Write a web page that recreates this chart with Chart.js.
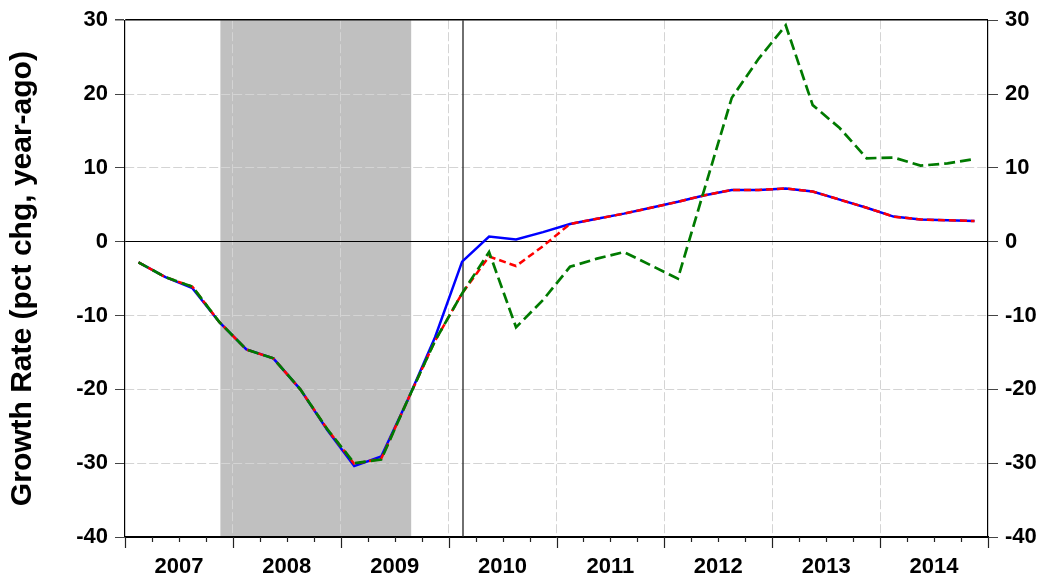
<!DOCTYPE html>
<html>
<head>
<meta charset="utf-8">
<script src="https://cdn.jsdelivr.net/npm/chart.js@4.4.1/dist/chart.umd.min.js"></script>
<style>
  html, body { margin: 0; padding: 0; background: #fff; }
  #wrap { width: 1046px; height: 584px; position: relative; }
</style>
</head>
<body>
<div id="wrap"><canvas id="c" width="1046" height="584"></canvas></div>
<script>
// ---- data ----
const years = [2007, 2008, 2009, 2010, 2011, 2012, 2013, 2014];
const quarterNames = ['Q1', 'Q2', 'Q3', 'Q4'];
const quarters = years.flatMap(y => quarterNames.map(q => y + q));

const actual = [-2.8, -4.8, -6.3, -10.9, -14.6, -15.8, -20.0, -25.5,
                -30.4, -29.1, -21.3, -12.9, -2.7, 0.7, 0.3, 1.3,
                2.4, 3.1, 3.8, 4.6, 5.4, 6.3, 7.0, 7.0,
                7.2, 6.8, 5.7, 4.6, 3.4, 3.0, 2.9, 2.8];
const forecastA = [-2.8, -4.8, -6.1, -10.9, -14.6, -15.8, -20.0, -25.4,
                   -30.1, -29.4, -21.3, -13.4, -7.0, -2.0, -3.3, -0.6,
                   2.4, 3.1, 3.8, 4.6, 5.4, 6.3, 7.0, 7.0,
                   7.2, 6.8, 5.7, 4.6, 3.4, 3.0, 2.9, 2.8];
const forecastB = [-2.8, -4.8, -6.1, -10.9, -14.6, -15.8, -20.0, -25.4,
                   -30.0, -29.5, -21.3, -13.4, -7.0, -1.4, -11.6, -7.9,
                   -3.4, -2.3, -1.4, -3.2, -5.0, 7.3, 19.5, 24.8,
                   29.3, 18.5, 15.4, 11.3, 11.4, 10.3, 10.6, 11.2];
const yTicks = [30, 20, 10, 0, -10, -20, -30, -40];
const recession = ['2007Q4', '2009Q3'];
const forecastStart = '2010Q1';
const yTitle = 'Growth Rate (pct chg, year-ago)';

// ---- plugin: recession shading, forecast marker, x tick marks ----
const decor = {
  id: 'decor',
  beforeDraw(chart) {
    const {ctx, chartArea: a, scales: {x}} = chart;
    const x0 = x.getPixelForValue(quarters.indexOf(recession[0])) + 1;
    const x1 = x.getPixelForValue(quarters.indexOf(recession[1])) + 3;
    ctx.save();
    ctx.fillStyle = '#c0c0c0';
    ctx.fillRect(x0, a.top, x1 - x0, a.bottom - a.top);
    ctx.restore();
  },
  beforeDatasetsDraw(chart) {
    const {ctx, chartArea: a, scales: {x}} = chart;
    const xm = Math.round(x.getPixelForValue(quarters.indexOf(forecastStart))) + 1;
    ctx.save();
    ctx.strokeStyle = '#222';
    ctx.lineWidth = 1.3;
    ctx.beginPath();
    ctx.moveTo(xm, a.top);
    ctx.lineTo(xm, a.bottom);
    ctx.stroke();
    ctx.restore();
  },
  afterDraw(chart) {
    const {ctx, chartArea: a, scales: {x}} = chart;
    const half = (x.getPixelForValue(1) - x.getPixelForValue(0)) / 2;
    ctx.save();
    ctx.strokeStyle = '#222';
    ctx.lineWidth = 1.2;
    for (let i = 0; i <= quarters.length; i++) {
      const px = Math.round(i < quarters.length ? x.getPixelForValue(i) - half : x.getPixelForValue(quarters.length - 1) + half) + 0.5;
      const len = (i % 4 === 0) ? 11 : 5;
      ctx.beginPath();
      ctx.moveTo(px, a.bottom);
      ctx.lineTo(px, a.bottom + len);
      ctx.stroke();
    }
    ctx.restore();
  }
};

const tickFont = { family: "'Liberation Sans', Arial, sans-serif", size: 22, weight: 'bold' };
const gridGray = '#d4d4d4';

new Chart(document.getElementById('c'), {
  type: 'line',
  data: {
    labels: quarters,
    datasets: [
      { label: 'Actual', data: actual, borderColor: '#0000ff', borderWidth: 2.5,
        pointRadius: 0, tension: 0, fill: false, order: 3, yAxisID: 'y' },
      { label: 'Forecast A', data: forecastA, borderColor: '#ff0000', borderWidth: 2.5,
        borderDash: [7, 4], pointRadius: 0, tension: 0, fill: false, order: 2, yAxisID: 'y' },
      { label: 'Forecast B', data: forecastB, borderColor: '#007a00', borderWidth: 2.7,
        borderDash: [11, 5], pointRadius: 0, tension: 0, fill: false, order: 1, yAxisID: 'y' }
    ]
  },
  options: {
    responsive: false,
    animation: false,
    layout: { padding: { top: 20, left: 0, right: 0, bottom: 0 } },
    plugins: { legend: { display: false }, tooltip: { enabled: false } },
    scales: {
      x: {
        type: 'category',
        offset: true,
        grid: {
          offset: true,
          drawTicks: false,
          color: c => (c.index % 4 === 0 && c.index > 0 && c.index < quarters.length) ? gridGray : 'rgba(0,0,0,0)',
          lineWidth: 1
        },
        border: { display: true, color: '#000', width: 1.2, dash: c => (c.tick ? [9, 3] : []) },
        ticks: {
          autoSkip: false, maxRotation: 0, minRotation: 0,
          padding: 17,
          labelOffset: 13.5,
          font: tickFont, color: '#000',
          callback: (v, i) => (i % 4 === 1 ? String(years[Math.floor(i / 4)]) : '')
        },
        afterFit: s => { s.height = 47; }
      },
      y: {
        position: 'left',
        min: -40, max: 30,
        afterBuildTicks: s => { s.ticks = yTicks.map(v => ({ value: v })); },
        grid: {
          color: c => (c.tick && (c.tick.value === 0 || c.tick.value === 30 || c.tick.value === -40)) ? '#000' : gridGray,
          lineWidth: c => (c.tick && c.tick.value === 30) ? 1.5 : 1,
          tickLength: 10,
          tickColor: '#444'
        },
        border: { display: true, color: '#000', width: 1.2,
          dash: c => (c.tick && c.tick.value !== 0 && c.tick.value !== 30 && c.tick.value !== -40) ? [9, 3] : [] },
        ticks: { font: tickFont, color: '#000', padding: 7 },
        title: {
          display: true, text: yTitle, color: '#000',
          font: { family: "'Liberation Sans', Arial, sans-serif", size: 30, weight: 'bold' },
          padding: { top: 5, bottom: 0 }
        },
        afterFit: s => { s.width = 125; }
      },
      y2: {
        position: 'right',
        min: -40, max: 30,
        afterBuildTicks: s => { s.ticks = yTicks.map(v => ({ value: v })); },
        grid: { drawOnChartArea: false, tickLength: 10, tickColor: '#444' },
        border: { display: true, color: '#000', width: 1.2 },
        ticks: { font: tickFont, color: '#000', padding: 7 },
        afterFit: s => { s.width = 58; }
      }
    }
  },
  plugins: [decor]
});
</script>
</body>
</html>
